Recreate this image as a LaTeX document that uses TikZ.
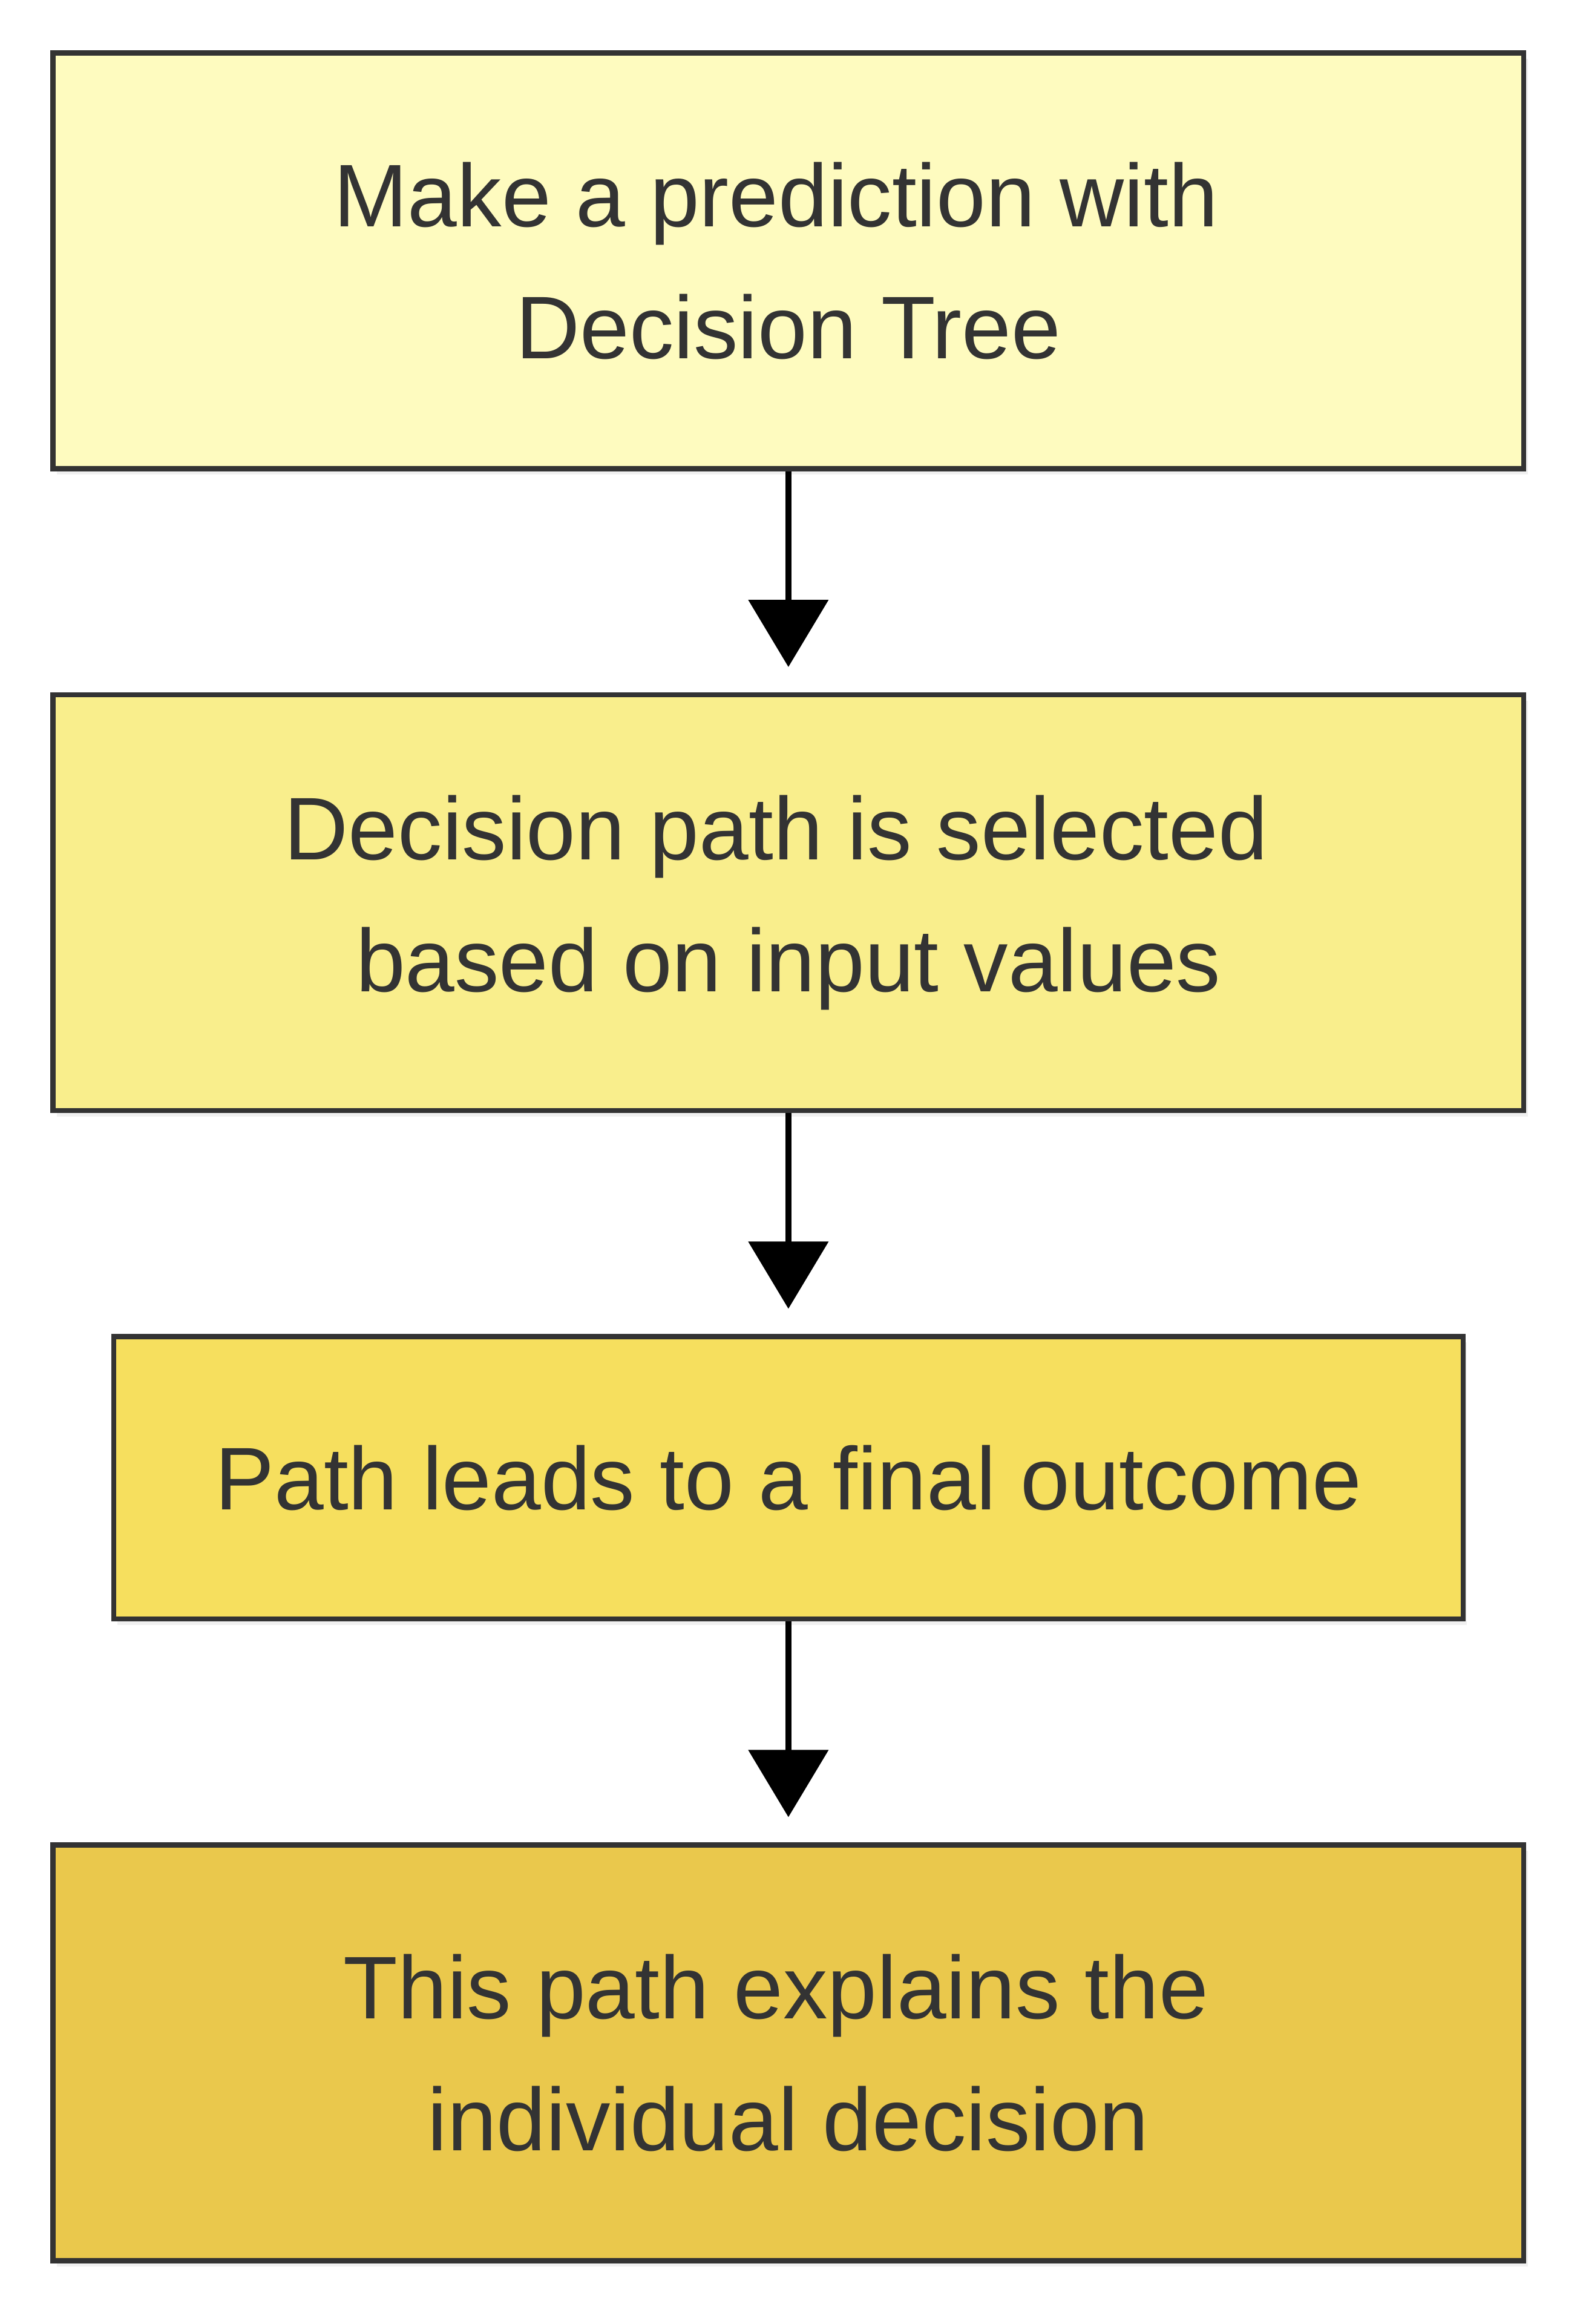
\documentclass[tikz,border=0pt]{standalone}
\usepackage{fontspec}
\setmainfont{Liberation Sans}
\usepackage{tikz}
\usetikzlibrary{arrows.meta,shadows}
\usetikzlibrary{positioning}

\definecolor{inkgrey}{HTML}{333333}
\definecolor{stepone}{HTML}{FEFBBF}
\definecolor{steptwo}{HTML}{F9EE8C}
\definecolor{stepthree}{HTML}{F6DF5E}
\definecolor{stepfour}{HTML}{EAC84C}

\tikzset{
	stepbox/.style={draw=inkgrey, line width=2.6pt, text=inkgrey, align=center,
		font=\fontsize{45}{67}\selectfont, minimum width=744.4pt, minimum height=210.4pt,
		drop shadow={shadow xshift=2pt, shadow yshift=-3pt, opacity=0.12}},
	flowarrow/.style={line width=3pt, -{Triangle[width=40pt,length=34pt]}, shorten >=12.75pt}
}

\begin{document}
\begin{tikzpicture}[x=0.75pt, y=-0.75pt, node distance=111.75pt]
	\useasboundingbox (0,0) rectangle (1068,1568);

	% prediction explained by the path through the tree
	\node[stepbox, fill=stepone] (a) at (532,176) {Make a prediction with\mbox{\ }\\Decision Tree};
	\node[stepbox, fill=steptwo, below=of a] (b) {Decision path is selected\mbox{\ }\\based on input values};
	\node[stepbox, fill=stepthree, minimum width=682.9pt, minimum height=142.9pt, below=of b] (c) {Path leads to a final outcome};
	\node[stepbox, fill=stepfour, below=of c] (d) {This path explains the\mbox{\ }\\individual decision};

	\draw[flowarrow] (a) -- (b);
	\draw[flowarrow] (b) -- (c);
	\draw[flowarrow] (c) -- (d);
\end{tikzpicture}
\end{document}
